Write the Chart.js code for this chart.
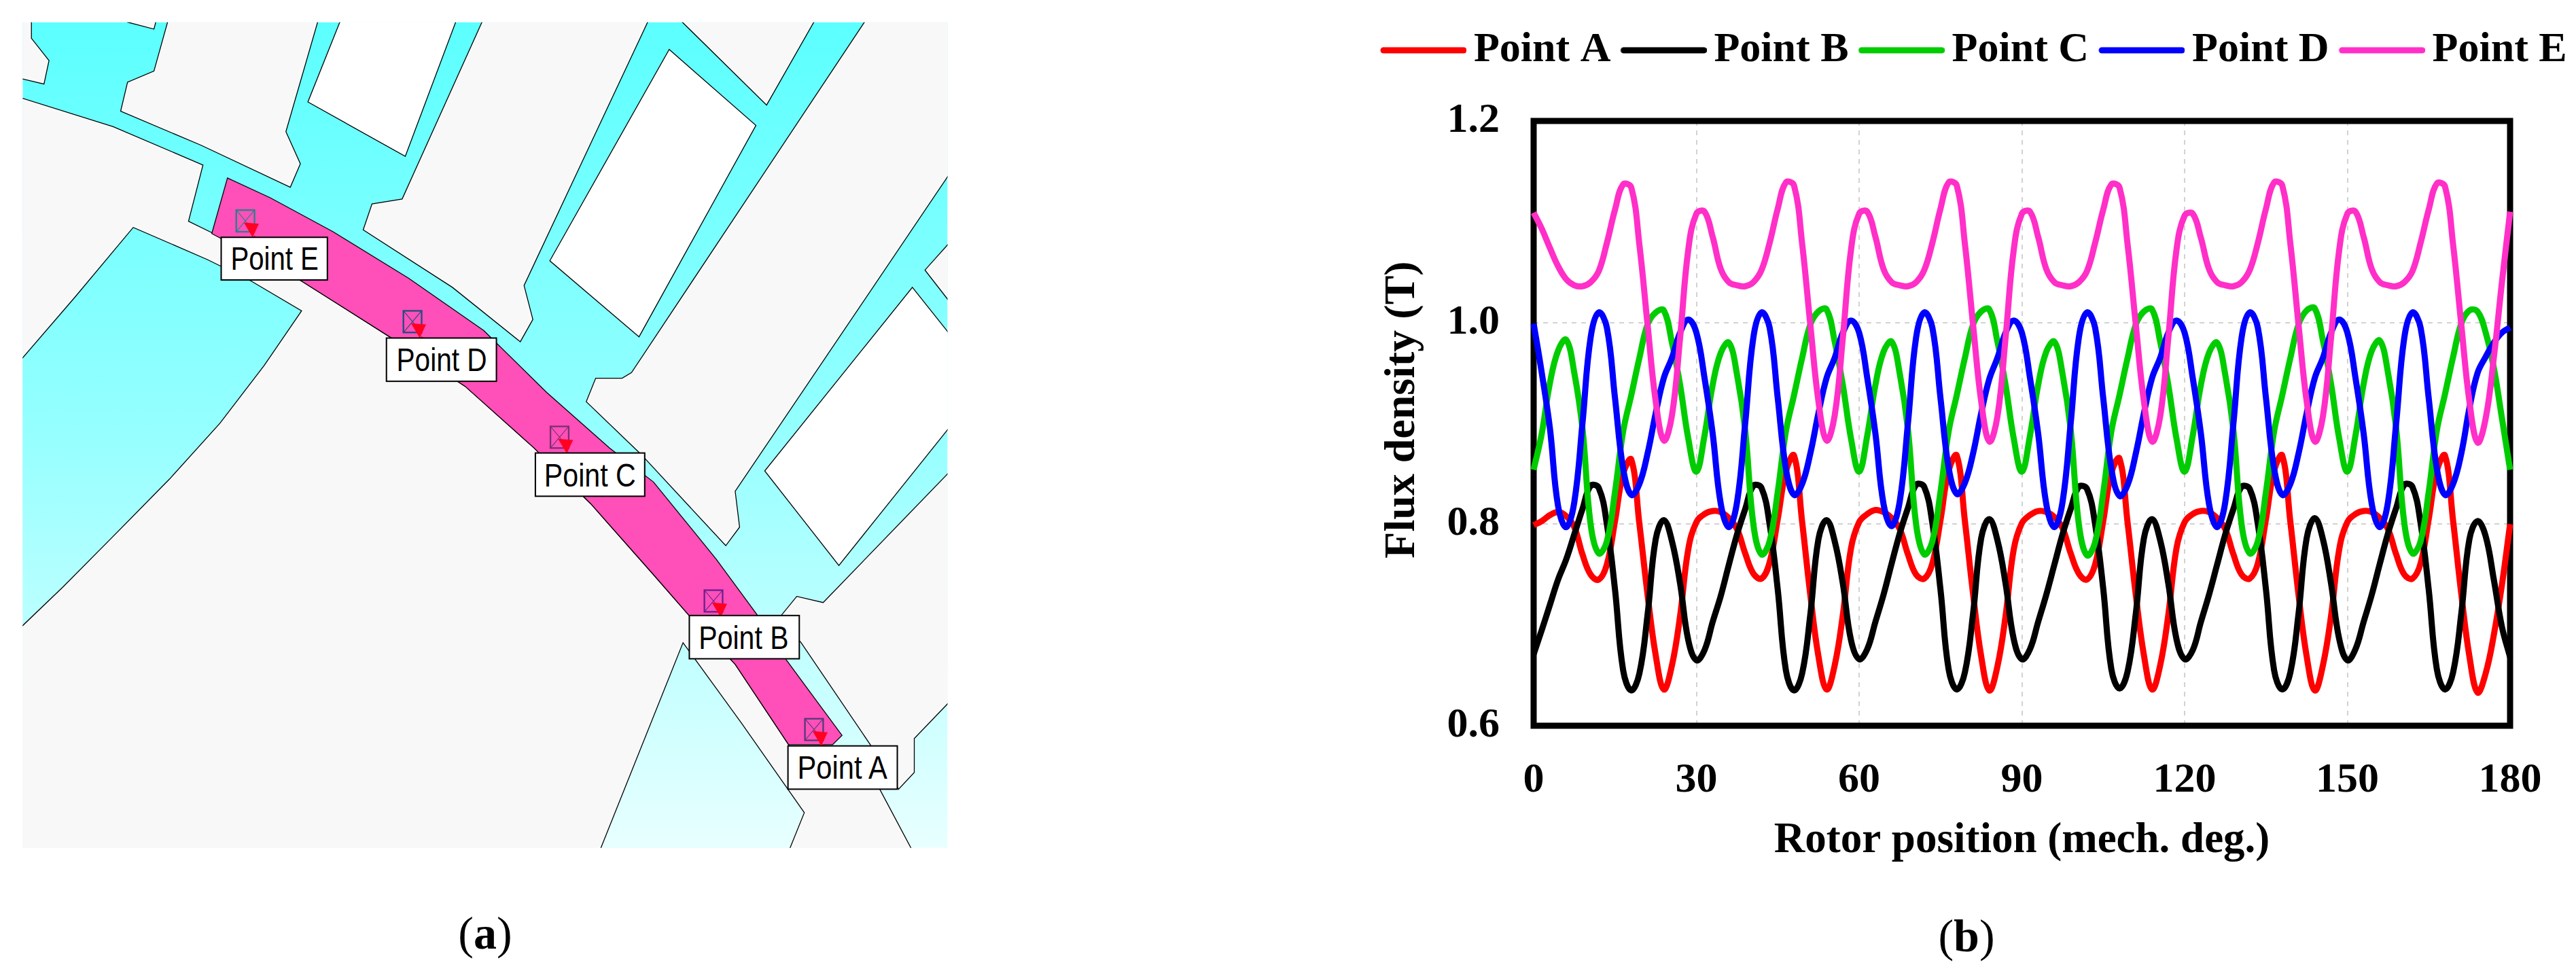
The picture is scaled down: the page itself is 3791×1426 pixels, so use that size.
<!DOCTYPE html>
<html>
<head>
<meta charset="utf-8">
<title>Flux density at rotor points</title>
<script src="https://cdn.jsdelivr.net/npm/chart.js@4"></script>
<style>
html,body{margin:0;padding:0;background:#fff;width:3791px;height:1426px;overflow:hidden}
#panelA{position:absolute;left:0;top:0}
#chartWrap{position:absolute;left:1950px;top:0;width:1841px;height:1426px}
.cap{position:absolute;font-family:"Liberation Serif",serif;font-size:68px;line-height:80px;color:#000;transform:translateX(-50%);white-space:nowrap}
</style>
</head>
<body>
<svg id="panelA" width="1450" height="1426" viewBox="0 0 1568 1568" preserveAspectRatio="none" xmlns="http://www.w3.org/2000/svg">
  <defs>
    <linearGradient id="iron" gradientUnits="userSpaceOnUse" x1="0" y1="36" x2="0" y2="1372">
      <stop offset="0" stop-color="#5cffff"/><stop offset="0.5" stop-color="#96ffff"/><stop offset="1" stop-color="#e8ffff"/>
    </linearGradient>
    <clipPath id="pc"><rect x="36" y="36" width="1472" height="1336"/></clipPath>
    <g id="mk">
      <rect x="0" y="0" width="29" height="35" fill="none" stroke-width="2.5"/>
      <path d="M0 0L29 35M29 0L0 35" fill="none" stroke-width="1.2"/>
      <polygon points="12,20 36,22 26,44" fill="#ff0022" stroke="none"/>
      <path d="M28 42L36 47" stroke="#ff0022" stroke-width="2" fill="none"/>
    </g>
  </defs>
  <g clip-path="url(#pc)" stroke="#000" stroke-width="1.4" stroke-linejoin="miter">
    <rect x="36" y="36" width="1472" height="1336" fill="url(#iron)" stroke="none"/>
    <g fill="#f8f8f8">
      <polygon points="20,20 50,20 50,62 78,98 70,136 20,124"/>
      <polygon points="196,20 203,36 245,47 252,20"/>
      <polygon points="271,20 245,115 203,133 192,180 320,235 462,303 478,265 455,213 510,20"/>
      <polygon points="774,20 640,322 592,330 578,372 720,465 828,553 848,517 834,462 1038,20"/>
      <polygon points="1070,20 1220,170 1304,20"/>
      <polygon points="1386,20 1524,20 1524,262 1170,795 1177,853 1155,883 1020,735 933,650 948,612 990,612 1005,603"/>
      <polygon points="1524,378 1472,437 1524,505"/>
      <polygon points="1524,750 1310,975 1268,965 1240,1000 1275,1040 1385,1205 1430,1277 1455,1250 1455,1195 1524,1122"/>
      <polygon points="20,154 180,205 323,267 300,358 340,378 480,455 620,545 740,625 850,725 940,815 1040,930 1100,1000 1170,1075 1255,1205 1275,1240 1400,1277 1458,1388 20,1388"/>
    </g>
    <g fill="#fff">
      <polygon points="547,20 490,165 645,253 731,20"/>
      <polygon points="1065,80 1203,203 1017,545 875,422"/>
      <polygon points="1452,465 1524,557 1524,675 1335,915 1217,762"/>
    </g>
    <g fill="url(#iron)">
      <polygon points="20,598 120,480 212,368 330,420 400,455 480,503 420,592 350,685 270,775 180,868 100,950 20,1028"/>
      <polygon points="1087,1040 1180,1170 1280,1315 1251,1388 950,1388"/>
    </g>
    <polygon fill="#ff4fb8" points="362,288 337,378 480,455 620,545 740,625 850,725 940,815 1040,930 1100,1000 1170,1075 1255,1205 1325,1205 1340,1190 1250,1066 1205,995 1140,905 1040,780 970,725 870,635 770,535 650,450 530,375 430,320"/>
  </g>
  <use href="#mk" x="376" y="340" stroke="#2a7f8a"/>
  <use href="#mk" x="642" y="503" stroke="#1f4d80"/>
  <use href="#mk" x="876" y="690" stroke="#7a3070"/>
  <use href="#mk" x="1121" y="955" stroke="#6a2090"/>
  <use href="#mk" x="1281" y="1163" stroke="#553a7a"/>
  <g fill="#fff" stroke="#000" stroke-width="2.2">
    <rect x="352" y="384" width="169" height="69"/>
    <rect x="615" y="547" width="175" height="70"/>
    <rect x="852" y="733" width="174" height="70"/>
    <rect x="1097" y="996" width="175" height="70"/>
    <rect x="1254" y="1207" width="174" height="70"/>
  </g>
  <g font-family="Liberation Sans" font-size="52" fill="#000">
    <text x="367" y="437" textLength="140" lengthAdjust="spacingAndGlyphs">Point E</text>
    <text x="631" y="600" textLength="144" lengthAdjust="spacingAndGlyphs">Point D</text>
    <text x="866" y="787" textLength="146" lengthAdjust="spacingAndGlyphs">Point C</text>
    <text x="1112" y="1050" textLength="143" lengthAdjust="spacingAndGlyphs">Point B</text>
    <text x="1269" y="1260" textLength="143" lengthAdjust="spacingAndGlyphs">Point A</text>
  </g>
</svg>
<div class="cap" style="left:714px;top:1333px">(<b>a</b>)</div>
<div class="cap" style="left:2894px;top:1337px">(<b>b</b>)</div>
<div id="chartWrap"><canvas id="c" width="1841" height="1426" style="display:block;width:1841px;height:1426px"></canvas></div>
<script>
const seriesNames = ["Point A","Point B","Point C","Point D","Point E"];
const seriesColors = ["#ff0000","#000000","#00cc00","#0000ff","#ff2fc8"];
const xTicksTitle = "Rotor position (mech. deg.)";
const yTitle = "Flux density (T)";

const rotorPosition = [
0,1.5,3,4.5,6,7.5,9,10.5,12,13.5,15,16.5,18,19.5,21,22.5,24,25.5,27,28.5,
30,31.5,33,34.5,36,37.5,39,40.5,42,43.5,45,46.5,48,49.5,51,52.5,54,55.5,57,58.5,
60,61.5,63,64.5,66,67.5,69,70.5,72,73.5,75,76.5,78,79.5,81,82.5,84,85.5,87,88.5,
90,91.5,93,94.5,96,97.5,99,100.5,102,103.5,105,106.5,108,109.5,111,112.5,114,115.5,117,118.5,
120,121.5,123,124.5,126,127.5,129,130.5,132,133.5,135,136.5,138,139.5,141,142.5,144,145.5,147,148.5,
150,151.5,153,154.5,156,157.5,159,160.5,162,163.5,165,166.5,168,169.5,171,172.5,174,175.5,177,178.5,
180];

const pointA = [
.799,.803,.809,.812,.808,.797,.770,.750,.745,.760,.803,.850,.864,.800,.730,.670,.636,.660,.709,.775,
.802,.810,.813,.812,.806,.795,.771,.751,.746,.762,.805,.852,.868,.802,.730,.669,.636,.660,.710,.776,
.802,.810,.814,.812,.806,.795,.770,.750,.746,.761,.804,.853,.868,.803,.731,.669,.635,.659,.709,.775,
.801,.809,.813,.812,.807,.796,.771,.751,.745,.760,.803,.851,.865,.801,.730,.670,.636,.660,.710,.776,
.802,.810,.813,.812,.806,.795,.770,.750,.746,.761,.805,.853,.868,.802,.730,.669,.635,.660,.709,.775,
.802,.810,.813,.812,.806,.795,.770,.750,.746,.761,.805,.853,.868,.803,.731,.669,.633,.652,.690,.740,
.800];

const pointB = [
.671,.695,.720,.745,.765,.790,.815,.838,.836,.800,.735,.655,.635,.652,.710,.785,.804,.783,.741,.685,
.665,.675,.703,.729,.760,.790,.815,.838,.836,.800,.735,.655,.635,.652,.710,.785,.804,.783,.741,.685,
.666,.676,.703,.730,.761,.791,.816,.839,.837,.801,.735,.656,.636,.653,.711,.786,.805,.784,.741,.686,
.666,.676,.703,.730,.760,.790,.815,.837,.835,.800,.736,.656,.637,.654,.711,.786,.805,.784,.741,.686,
.666,.675,.703,.730,.760,.790,.815,.837,.835,.800,.735,.655,.636,.653,.711,.786,.806,.785,.741,.686,
.665,.676,.703,.730,.761,.791,.816,.839,.837,.801,.735,.656,.636,.653,.711,.785,.803,.788,.745,.698,
.668];

const pointC = [
.854,.890,.940,.972,.983,.950,.895,.800,.771,.783,.832,.892,.928,.965,.998,1.010,1.012,.980,.938,.885,
.852,.888,.938,.970,.980,.948,.893,.800,.770,.783,.832,.892,.928,.965,.998,1.011,1.013,.981,.938,.885,
.852,.888,.938,.971,.981,.949,.894,.800,.770,.783,.832,.892,.928,.965,.998,1.011,1.013,.981,.938,.885,
.852,.888,.938,.971,.981,.949,.894,.800,.769,.782,.831,.892,.928,.965,.998,1.011,1.013,.981,.938,.885,
.852,.888,.938,.970,.980,.948,.893,.800,.771,.783,.832,.892,.928,.965,.998,1.012,1.014,.982,.939,.885,
.852,.888,.939,.972,.982,.950,.895,.801,.771,.783,.832,.893,.929,.966,.999,1.012,1.011,.990,.955,.905,
.854];

const pointD = [
.999,.950,.895,.818,.797,.822,.900,.985,1.010,.995,.925,.855,.829,.840,.870,.910,.945,.965,.990,1.003,
.990,.945,.890,.820,.797,.822,.900,.985,1.010,.995,.925,.855,.829,.840,.870,.910,.945,.965,.990,1.002,
.990,.945,.890,.820,.798,.823,.900,.985,1.010,.995,.925,.856,.830,.841,.870,.910,.944,.965,.990,1.002,
.990,.945,.890,.820,.797,.822,.900,.985,1.010,.995,.925,.855,.828,.839,.870,.910,.945,.965,.990,1.002,
.990,.945,.890,.820,.797,.822,.900,.985,1.010,.995,.925,.855,.829,.840,.870,.910,.945,.965,.990,1.003,
.990,.945,.890,.820,.797,.822,.900,.985,1.010,.995,.925,.855,.829,.840,.870,.915,.950,.966,.980,.990,
.995];

const pointE = [
1.109,1.093,1.074,1.056,1.043,1.037,1.036,1.040,1.051,1.079,1.112,1.137,1.134,1.077,.998,.922,.883,.908,.985,1.072,
1.108,1.110,1.085,1.053,1.040,1.037,1.036,1.040,1.052,1.079,1.113,1.139,1.136,1.078,.998,.922,.883,.908,.985,1.072,
1.108,1.110,1.085,1.053,1.040,1.037,1.036,1.040,1.052,1.079,1.113,1.139,1.136,1.078,.998,.922,.882,.907,.985,1.072,
1.108,1.110,1.085,1.053,1.040,1.037,1.036,1.040,1.051,1.079,1.112,1.137,1.134,1.077,.998,.922,.882,.907,.985,1.072,
1.106,1.108,1.084,1.053,1.040,1.037,1.036,1.040,1.052,1.079,1.113,1.139,1.136,1.078,.998,.922,.882,.907,.985,1.072,
1.108,1.110,1.085,1.053,1.040,1.037,1.036,1.040,1.051,1.079,1.112,1.138,1.135,1.077,.998,.922,.881,.905,.965,1.040,
1.110];

const seriesValues = [pointA, pointB, pointC, pointD, pointE];
const xTickStep = 30, xMin = 0, xMax = 180;
const yTickStep = 0.2, yMin = 0.6, yMax = 1.2;
const serif = "'Liberation Serif', serif";

function swatch(color){
  const c = document.createElement('canvas');
  c.width = 146; c.height = 12;
  const g = c.getContext('2d');
  g.strokeStyle = color; g.lineWidth = 9; g.lineCap = 'round';
  g.beginPath(); g.moveTo(24,6); g.lineTo(142,6); g.stroke();
  return c;
}

const datasets = seriesNames.map((name,i)=>({
  label: name,
  data: rotorPosition.map((x,k)=>({x, y: seriesValues[i][k]})),
  borderColor: seriesColors[i],
  backgroundColor: seriesColors[i],
  borderWidth: 9,
  pointRadius: 0,
  pointStyle: swatch(seriesColors[i]),
  tension: 0.4,
  fill: false,
  clip: false,
  order: seriesNames.length - i
}));

const framePlugin = {
  id: 'frame',
  beforeLayout(chart){
    const lg = chart.legend;
    if(!lg._wide){
      lg._wide = true;
      const fit = lg.fit;
      lg.fit = function(){ this.maxWidth = 2400; fit.call(this); };
    }
  },
  afterLayout(chart){
    chart.legend.left = 67;
    chart.legend.right = 2400;
    chart.legend.top = 28;
    const y = chart.scales.y;
    if(!y._shifted){
      y._shifted = true;
      const orig = y.drawTitle;
      y.drawTitle = function(){
        const ctx = this.ctx; ctx.save(); ctx.translate(0,-20);
        orig.apply(this, arguments); ctx.restore();
      };
    }
  },
  beforeDatasetsDraw(chart){
    const {ctx, chartArea:a} = chart;
    ctx.save();
    ctx.strokeStyle = '#000'; ctx.lineWidth = 9; ctx.lineJoin = 'miter';
    ctx.strokeRect(a.left, a.top, a.right-a.left, a.bottom-a.top);
    ctx.restore();
  }
};

new Chart(document.getElementById('c'), {
  type: 'line',
  data: { datasets },
  plugins: [framePlugin],
  options: {
    responsive: false,
    animation: false,
    devicePixelRatio: 1,
    layout: { padding: { left: 76, right: 97, top: 91, bottom: 150 } },
    plugins: {
      tooltip: { enabled: false },
      title: { display: false },
      legend: {
        display: true,
        position: 'top',
        align: 'start',
        labels: {
          usePointStyle: true,
          pointStyleWidth: 106,
          padding: 15,
          color: '#000',
          font: { family: serif, size: 62, weight: 'bold' },
          sort: (a,b)=>a.datasetIndex-b.datasetIndex
        }
      }
    },
    scales: {
      x: {
        type: 'linear', min: xMin, max: xMax,
        border: { display: false, dash: [7,7] },
        grid: { color: '#d2d2d2', lineWidth: 2, drawTicks: false, tickLength: 0 },
        ticks: { stepSize: xTickStep, color: '#000', padding: 44, maxRotation: 0, autoSkip: false,
          font: { family: serif, size: 62, weight: 'bold' } },
        title: { display: true, text: xTicksTitle, color: '#000', padding: 0,
          font: { family: serif, size: 63, weight: 'bold' } },
        afterFit(s){ s.height = 208; }
      },
      y: {
        type: 'linear', min: yMin, max: yMax,
        border: { display: false, dash: [7,7] },
        grid: { color: '#d2d2d2', lineWidth: 2, drawTicks: false, tickLength: 0 },
        ticks: { stepSize: yTickStep, color: '#000', padding: 50, autoSkip: false,
          callback: v => Number(v).toFixed(1),
          font: { family: serif, size: 62, weight: 'bold' } },
        title: { display: true, text: yTitle, color: '#000', padding: 0,
          font: { family: serif, size: 64, weight: 'bold' } },
        afterFit(s){ s.width = 231; }
      }
    }
  }
});
</script>
</body>
</html>
